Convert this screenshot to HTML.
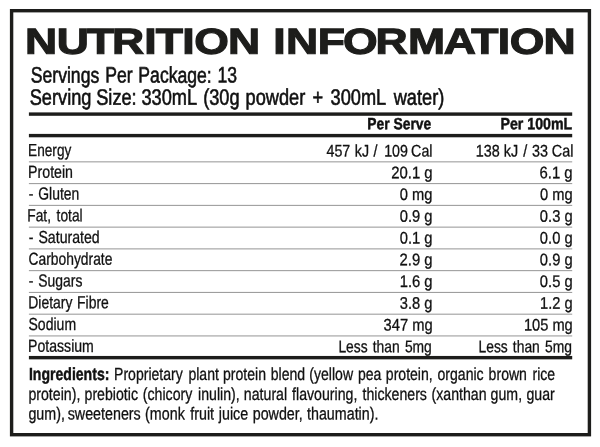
<!DOCTYPE html>
<html lang="en"><head><meta charset="utf-8"><title>Nutrition Information</title>
<style>html,body{margin:0;padding:0;background:#fff}body{width:600px;height:447px;overflow:hidden}</style>
</head><body>
<svg width="600" height="447" viewBox="0 0 600 447" font-family='"Liberation Sans", sans-serif' fill="#1d1d1b" text-rendering="geometricPrecision" style="display:block">
<rect x="11.6" y="10.7" width="577.8" height="424" fill="none" stroke="#1d1d1b" stroke-width="3.4"/>
<rect x="28.9" y="112.4" width="543.3" height="3.4" fill="#1d1d1b"/>
<rect x="28.9" y="133.9" width="543.3" height="3.4" fill="#1d1d1b"/>
<rect x="28.9" y="355.95" width="543.3" height="3.4" fill="#1d1d1b"/>
<rect x="28.9" y="161.35" width="543.3" height="1" fill="#959595"/>
<rect x="28.9" y="183.11" width="543.3" height="1" fill="#959595"/>
<rect x="28.9" y="204.87" width="543.3" height="1" fill="#959595"/>
<rect x="28.9" y="226.63" width="543.3" height="1" fill="#959595"/>
<rect x="28.9" y="248.39" width="543.3" height="1" fill="#959595"/>
<rect x="28.9" y="270.15" width="543.3" height="1" fill="#959595"/>
<rect x="28.9" y="291.91" width="543.3" height="1" fill="#959595"/>
<rect x="28.9" y="313.67" width="543.3" height="1" fill="#959595"/>
<rect x="28.9" y="335.43" width="543.3" height="1" fill="#959595"/>
<g fill="#111111" stroke="#111111">
<text transform="matrix(1.23 0.0006 0 1 0 53.8)" x="20.31 46.14 70.79 91.16 117.23 126.60 148.13 157.83 185.29" y="-0.01 -0.03 -0.04 -0.05 -0.07 -0.08 -0.09 -0.09 -0.11" font-size="36.2" font-weight="700" fill="#1d1d1b" stroke="#1d1d1b" stroke-width="1.1">NUTRITION</text>
<text transform="matrix(1.23 0.0006 0 1 0 53.8)" x="222.15 232.44 258.29 278.92 305.22 331.70 360.86 383.11 404.67 414.41 441.79" y="-0.13 -0.14 -0.15 -0.17 -0.18 -0.20 -0.22 -0.23 -0.24 -0.25 -0.27" font-size="36.2" font-weight="700" fill="#1d1d1b" stroke="#1d1d1b" stroke-width="1.1">INFORMATION</text>
<text transform="matrix(0.7887 0.0006 0 1 0 82.60)" font-size="22.3" stroke-width="0.6"><tspan x="39.04" y="-0.02">Servings</tspan> <tspan x="133.38" y="-0.08">Per</tspan> <tspan x="175.44" y="-0.11">Package:</tspan> <tspan x="275.88" y="-0.17">13</tspan></text>
<text transform="matrix(0.8161 0.0006 0 1 0 104.70)" font-size="22.3" stroke-width="0.6"><tspan x="36.45" y="-0.02">Serving</tspan> <tspan x="117.90" y="-0.07">Size:</tspan> <tspan x="173.33" y="-0.10">330mL</tspan> <tspan x="248.93" y="-0.15">(30g</tspan> <tspan x="300.84" y="-0.18">powder</tspan> <tspan x="382.99" y="-0.23">+</tspan> <tspan x="405.00" y="-0.24">300mL</tspan> <tspan x="482.46" y="-0.29">water)</tspan></text>
<text transform="matrix(0.8037 0.0006 0 1 0 380.00)" font-size="17.5" stroke-width="0.3"><tspan x="35.97" y="-0.02" font-weight="700" stroke-width="0.45">Ingredients:</tspan> <tspan x="141.88" y="-0.09">Proprietary</tspan> <tspan x="234.44" y="-0.14">plant</tspan> <tspan x="277.45" y="-0.17">protein</tspan> <tspan x="336.82" y="-0.20">blend</tspan> <tspan x="384.88" y="-0.23">(yellow</tspan> <tspan x="445.34" y="-0.27">pea</tspan> <tspan x="480.05" y="-0.29">protein,</tspan> <tspan x="544.38" y="-0.33">organic</tspan> <tspan x="607.98" y="-0.36">brown</tspan> <tspan x="662.58" y="-0.40">rice</tspan></text>
<text transform="matrix(0.8082 0.0006 0 1 0 399.90)" font-size="17.5" stroke-width="0.3"><tspan x="35.18" y="-0.02">protein),</tspan> <tspan x="104.58" y="-0.06">prebiotic</tspan> <tspan x="176.67" y="-0.11">(chicory</tspan> <tspan x="245.09" y="-0.15">inulin),</tspan> <tspan x="301.74" y="-0.18">natural</tspan> <tspan x="361.43" y="-0.22">flavouring,</tspan> <tspan x="448.47" y="-0.27">thickeners</tspan> <tspan x="533.90" y="-0.32">(xanthan</tspan> <tspan x="607.05" y="-0.36">gum,</tspan> <tspan x="651.36" y="-0.39">guar</tspan></text>
<text transform="matrix(0.8162 0.0006 0 1 0 419.40)" font-size="17.5" stroke-width="0.3"><tspan x="34.79" y="-0.02">gum),</tspan> <tspan x="82.98" y="-0.05">sweeteners</tspan> <tspan x="177.77" y="-0.11">(monk</tspan> <tspan x="233.05" y="-0.14">fruit</tspan> <tspan x="268.09" y="-0.16">juice</tspan> <tspan x="309.61" y="-0.19">powder,</tspan> <tspan x="376.13" y="-0.23">thaumatin).</tspan></text>
<text transform="matrix(0.8000 0.0006 0 1 0 199.52)" font-size="17.4" stroke-width="0.3"><tspan x="36.00" y="-0.02">-</tspan> <tspan x="47.88" y="-0.03">Gluten</tspan></text>
<text transform="matrix(0.7898 0.0006 0 1 0 221.28)" font-size="17.4" stroke-width="0.3"><tspan x="34.57" y="-0.02">Fat,</tspan> <tspan x="71.68" y="-0.04">total</tspan></text>
<text transform="matrix(0.8128 0.0006 0 1 0 243.04)" font-size="17.4" stroke-width="0.3"><tspan x="35.39" y="-0.02">-</tspan> <tspan x="47.27" y="-0.03">Saturated</tspan></text>
<text transform="matrix(0.8000 0.0006 0 1 0 286.56)" font-size="17.4" stroke-width="0.3"><tspan x="36.00" y="-0.02">-</tspan> <tspan x="47.88" y="-0.03">Sugars</tspan></text>
<text transform="matrix(0.8011 0.0006 0 1 0 308.32)" font-size="17.4" stroke-width="0.3"><tspan x="35.35" y="-0.02">Dietary</tspan> <tspan x="96.22" y="-0.06">Fibre</tspan></text>
<text transform="matrix(0.8488 0.0006 0 1 0 156.40)" font-size="16.8" stroke-width="0.3"><tspan x="384.62" y="-0.23">457</tspan> <tspan x="418.09" y="-0.25">kJ</tspan> <tspan x="440.12" y="-0.26">/</tspan> <tspan x="452.57" y="-0.27">109</tspan> <tspan x="484.36" y="-0.29">Cal</tspan></text>
<text transform="matrix(0.8563 0.0006 0 1 0 156.40)" font-size="16.8" stroke-width="0.3"><tspan x="555.50" y="-0.33">138</tspan> <tspan x="588.36" y="-0.35">kJ</tspan> <tspan x="611.07" y="-0.37">/</tspan> <tspan x="621.35" y="-0.37">33</tspan> <tspan x="644.44" y="-0.39">Cal</tspan></text>
<text transform="matrix(0.8248 0.0006 0 1 0 352.24)" font-size="16.8" stroke-width="0.3"><tspan x="410.28" y="-0.25">Less</tspan> <tspan x="451.93" y="-0.27">than</tspan> <tspan x="490.90" y="-0.29">5mg</tspan></text>
<text transform="matrix(0.8248 0.0006 0 1 0 352.24)" font-size="16.8" stroke-width="0.3"><tspan x="580.14" y="-0.35">Less</tspan> <tspan x="621.79" y="-0.37">than</tspan> <tspan x="660.76" y="-0.40">5mg</tspan></text>
<text transform="matrix(0.8515 0.0006 0 1 367.25 129.30)" font-size="16.3" font-weight="700" stroke-width="0.45" >Per Serve</text>
<text transform="matrix(0.8704 0.0006 0 1 500.53 129.30)" font-size="16.3" font-weight="700" stroke-width="0.45" >Per 100mL</text>
<text transform="matrix(0.7833 0.0006 0 1 28.12 156.00)" font-size="17.4" stroke-width="0.3" >Energy</text>
<text transform="matrix(0.8152 0.0006 0 1 28.08 177.76)" font-size="17.4" stroke-width="0.3" >Protein</text>
<text transform="matrix(0.7962 0.0006 0 1 28.50 264.80)" font-size="17.4" stroke-width="0.3" >Carbohydrate</text>
<text transform="matrix(0.8070 0.0006 0 1 28.49 330.08)" font-size="17.4" stroke-width="0.3" >Sodium</text>
<text transform="matrix(0.8101 0.0006 0 1 28.09 351.84)" font-size="17.4" stroke-width="0.3" >Potassium</text>
<text transform="matrix(0.8867 0.0006 0 1 391.23 178.16)" font-size="16.8" stroke-width="0.3" >20.1 g</text>
<text transform="matrix(0.8750 0.0006 0 1 399.86 199.92)" font-size="16.8" stroke-width="0.3" >0 mg</text>
<text transform="matrix(0.8778 0.0006 0 1 399.76 221.68)" font-size="16.8" stroke-width="0.3" >0.9 g</text>
<text transform="matrix(0.8778 0.0006 0 1 399.76 243.44)" font-size="16.8" stroke-width="0.3" >0.1 g</text>
<text transform="matrix(0.8839 0.0006 0 1 399.54 265.20)" font-size="16.8" stroke-width="0.3" >2.9 g</text>
<text transform="matrix(0.8794 0.0006 0 1 399.70 286.96)" font-size="16.8" stroke-width="0.3" >1.6 g</text>
<text transform="matrix(0.8750 0.0006 0 1 399.86 308.72)" font-size="16.8" stroke-width="0.3" >3.8 g</text>
<text transform="matrix(0.8771 0.0006 0 1 383.56 330.48)" font-size="16.8" stroke-width="0.3" >347 mg</text>
<text transform="matrix(0.8867 0.0006 0 1 539.53 178.16)" font-size="16.8" stroke-width="0.3" >6.1 g</text>
<text transform="matrix(0.8750 0.0006 0 1 539.96 199.92)" font-size="16.8" stroke-width="0.3" >0 mg</text>
<text transform="matrix(0.8778 0.0006 0 1 539.86 221.68)" font-size="16.8" stroke-width="0.3" >0.3 g</text>
<text transform="matrix(0.8778 0.0006 0 1 539.86 243.44)" font-size="16.8" stroke-width="0.3" >0.0 g</text>
<text transform="matrix(0.8778 0.0006 0 1 539.86 265.20)" font-size="16.8" stroke-width="0.3" >0.9 g</text>
<text transform="matrix(0.8778 0.0006 0 1 539.86 286.96)" font-size="16.8" stroke-width="0.3" >0.5 g</text>
<text transform="matrix(0.8709 0.0006 0 1 540.11 308.72)" font-size="16.8" stroke-width="0.3" >1.2 g</text>
<text transform="matrix(0.8726 0.0006 0 1 523.91 330.48)" font-size="16.8" stroke-width="0.3" >105 mg</text>
</g>
</svg>
</body></html>
